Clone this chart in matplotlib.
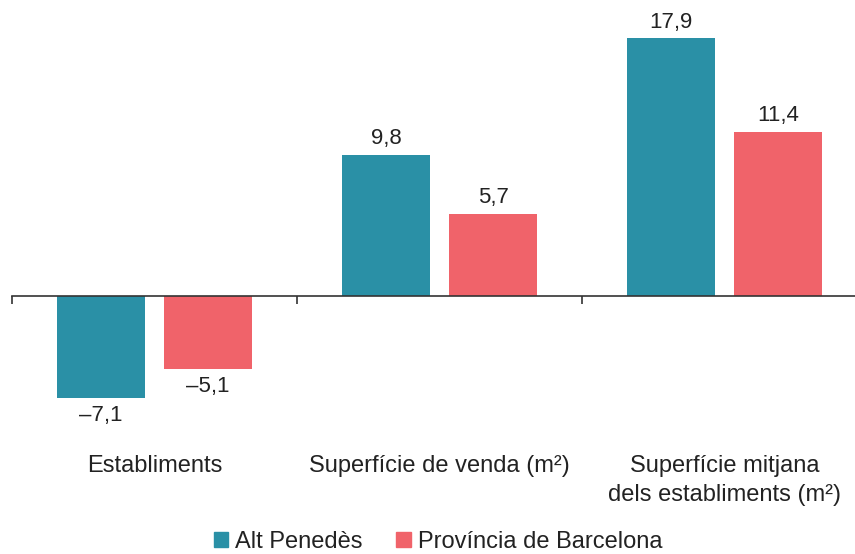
import matplotlib.pyplot as plt
import numpy as np

plt.rcParams['font.family'] = ['Liberation Sans', 'DejaVu Sans']

categories = ["Establiments", "Superfície de venda (m²)",
              "Superfície mitjana\ndels establiments (m²)"]
series_names = ["Alt Penedès", "Província de Barcelona"]
alt_penedes = [-7.1, 9.8, 17.9]
barcelona = [-5.1, 5.7, 11.4]
colors = ["#2A90A6", "#F0636A"]

fig = plt.figure(figsize=(8.55, 5.54), dpi=100)
W, H = 855, 554
ax = fig.add_axes([12 / W, 1 - 420 / H, 1.0, 400 / H])

x = np.arange(len(categories))
width = 0.309
offset = 0.188
for vals, off, col in [(alt_penedes, -offset, colors[0]), (barcelona, offset, colors[1])]:
    bars = ax.bar(x + off, vals, width, color=col, zorder=2)
    for b, v in zip(bars, vals):
        label = f"{abs(v):.1f}".replace(".", ",")
        cx = b.get_x() + b.get_width() / 2
        if v < 0:
            ax.annotate("–" + label, (cx, v), xytext=(0, -5),
                        textcoords="offset points", ha="center", va="top",
                        fontsize=16, color="#222222")
        else:
            ax.annotate(label, (cx, v), xytext=(0, 4),
                        textcoords="offset points", ha="center", va="bottom",
                        fontsize=16, color="#222222")

ax.set_xlim(-0.5, 2.5)
ax.set_ylim(-(420 - 296) / 14.41, (296 - 20) / 14.41)
for s in ["top", "right", "left"]:
    ax.spines[s].set_visible(False)
ax.spines["bottom"].set_position(("data", 0))
ax.spines["bottom"].set_color("#333333")
ax.spines["bottom"].set_linewidth(1.2)
ax.spines["bottom"].set_zorder(3)
ax.set_yticks([])
ax.set_xticks([-0.5, 0.5, 1.5, 2.5])
ax.set_xticklabels([])
ax.tick_params(axis="x", direction="out", length=5.5, width=1.2, color="#333333")

for i, cat in enumerate(categories):
    fig.text((12 + 285 * (i + 0.5)) / W, 1 - 455 / H, cat, ha="center", va="top",
             fontsize=17, color="#222222", linespacing=1.4)

handles = [plt.Rectangle((0, 0), 1, 1, color=c) for c in colors]
fig.legend(handles, series_names, loc="center", bbox_to_anchor=(438 / W, 1 - 542 / H),
           ncol=2, frameon=False, fontsize=17, handlelength=0.62, handleheight=0.62,
           handletextpad=0.3, columnspacing=1.4, labelcolor="#222222")

fig.savefig("out.png", dpi=100)
